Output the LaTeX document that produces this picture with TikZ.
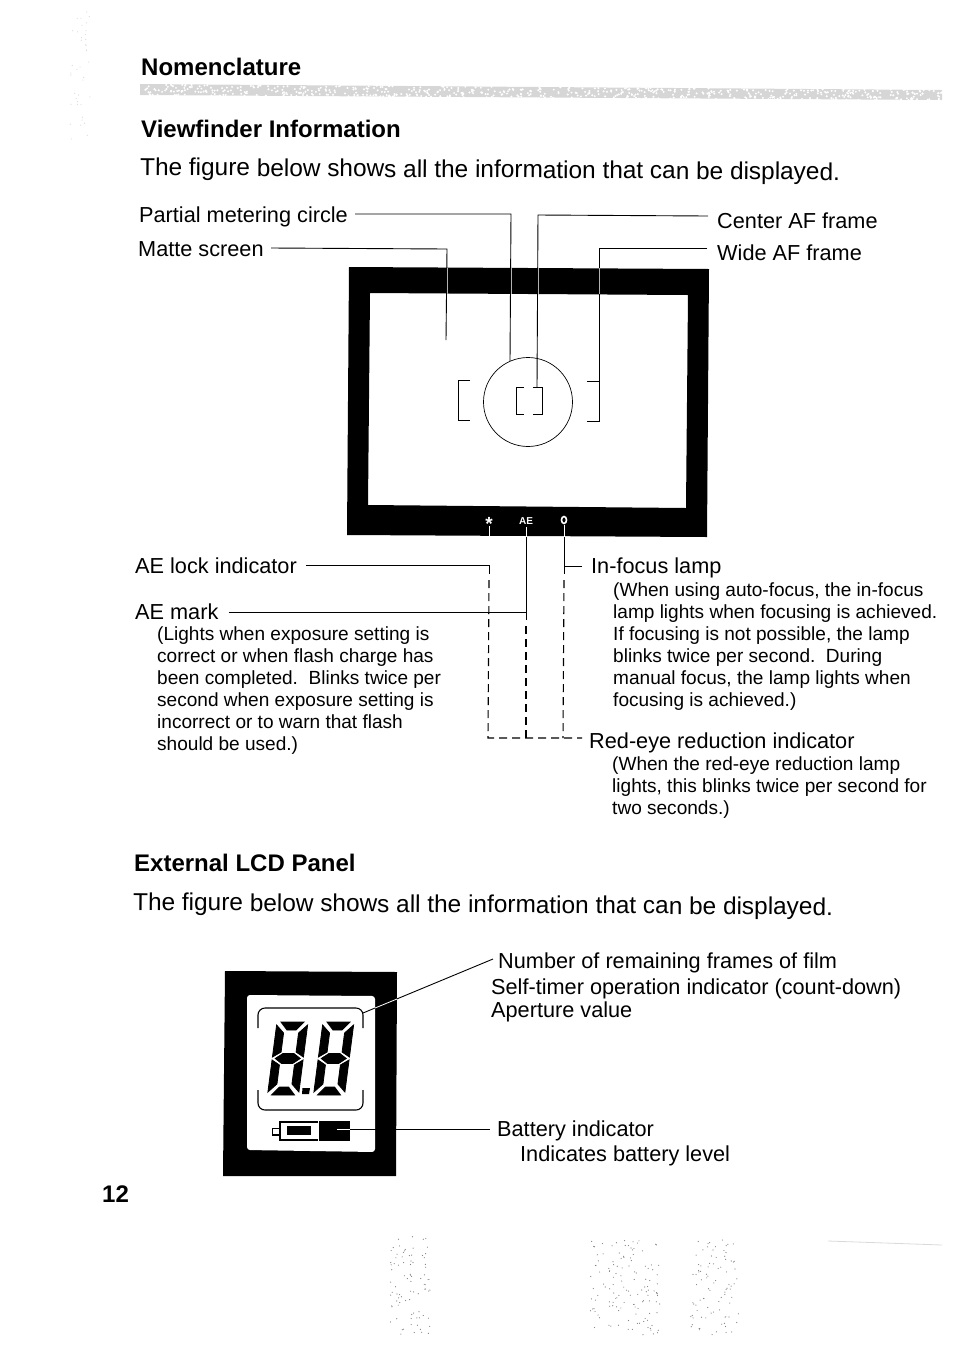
\documentclass[tikz,border=0pt]{standalone}
\usepackage{fontspec}
\setmainfont{Liberation Sans}
\usepackage{xcolor}
\usetikzlibrary{positioning,calc,shapes.geometric}
\definecolor{bandgray}{gray}{0.84}
\definecolor{speck}{gray}{0.5}
\definecolor{speckpale}{gray}{0.85}
\newcommand{\lcddigit}[2]{%
\begin{scope}[shift={(#1,#2)}, xslant=0.13, line width=0.8pt]
\filldraw (4,0) -- (27,0) -- (20,8) -- (11,8) -- cycle;
\filldraw (4,73) -- (27,73) -- (20,65) -- (11,65) -- cycle;
\filldraw (3,36.5) -- (10,31.5) -- (21,31.5) -- (28,36.5) -- (21,41.5) -- (10,41.5) -- cycle;
\foreach \mir/\off in {1/0, -1/31} {
    \begin{scope}[shift={(\off,0)}, xscale=\mir]
    \filldraw (0,3) -- (8,11) -- (8,30) -- (0,35) -- cycle;
    \filldraw (0,38) -- (8,43) -- (8,62) -- (0,70) -- cycle;
    \end{scope}
}
\end{scope}}

\begin{document}
\begin{tikzpicture}[
    x=1pt, y=-1pt,
    headtext/.style={font=\fontsize{24}{28}\selectfont\bfseries, anchor=west, inner sep=0pt},
    introtext/.style={font=\fontsize{24.4}{28}\selectfont, anchor=west, inner sep=0pt},
    labeltext/.style={font=\fontsize{21.7}{26}\selectfont, anchor=west, inner sep=0pt},
    smalltext/.style={font=\fontsize{19.05}{22}\selectfont, anchor=north west, align=left, inner sep=0pt},
    lead/.style={line width=0.9pt},
    leadband/.style={line width=0.9pt, gray!60},
    dashlead/.style={line width=1.1pt, dash pattern=on 8pt off 5pt},
    thin bracket/.style={line width=0.7pt}
]
\useasboundingbox (0,0) rectangle (954,1350);

% heading band
\fill[bandgray] (140,84) -- (942,90) -- (942,100) -- (140,95) -- cycle;
\pgfmathsetseed{12}
\foreach \i in {1,...,600} {
    \pgfmathsetmacro{\dx}{140+rnd*802}
    \pgfmathsetmacro{\dy}{84+0.0072*(\dx-140)+rnd*11}
    \fill[white] (\dx,\dy) circle (1.1);
}
% paper specks
\foreach \xa/\xb/\ya/\yb/\num/\col in {390/430/1235/1335/85/speck, 590/660/1240/1335/130/speck, 690/740/1240/1335/90/speck, 70/90/10/140/40/speckpale} {
    \foreach \i in {1,...,\num} {
        \pgfmathsetmacro{\dx}{\xa+rnd*(\xb-\xa)}
        \pgfmathsetmacro{\dy}{\ya+rnd*(\yb-\ya)}
        \fill[\col] (\dx,\dy) circle (0.6);
    }
}
\draw[speckpale, line width=0.8pt] (828,1241) -- (942,1245);

\node[headtext] (nomen) at (141,67) {Nomenclature};
\node[headtext] (viewhead) at (141,129) {Viewfinder Information};
\node[introtext, rotate=-0.4] (viewintro) at (140,169) {The figure below shows all the information that can be displayed.};

% viewfinder
\fill[even odd rule] (349,267) -- (709,269) -- (707,537) -- (347,535) -- cycle
    (370,293) -- (688,295) -- (686,508) -- (368,505) -- cycle;
\node[draw, circle, line width=0.7pt, minimum size=89pt, inner sep=0pt] (meter) at (528,402) {};
\draw[thin bracket] (470,380) -- (458,380) -- (458,420) -- (470,420);
\draw[thin bracket] (587,381.5) -- (599,381.5) -- (599,421) -- (587,421);
\draw[thin bracket] (524,387) -- (516,387) -- (516,414) -- (524,414);
\draw[thin bracket] (533,387) -- (542,387) -- (542,414) -- (533,414);

\node[labeltext] (partial) at (139,216.5) {Partial metering circle};
\node[labeltext] (matte) at (138,249.5) {Matte screen};
\node[labeltext] (centeraf) at (717,221) {Center AF frame};
\node[labeltext] (wideaf) at (717,253) {Wide AF frame};
\coordinate (partialtip) at (510,361);
\coordinate (mattetip) at (446,340);
\coordinate (centertip) at (537,387);
\coordinate (widetip) at (599,381.5);

\draw[lead] (355,214) -- (511,214) -- (partialtip);
\draw[lead] (271,248) -- (447,249) -- (mattetip);
\draw[lead] (708,216) -- (538,215) -- (centertip);
\draw[lead] (707,248) -- (599,248) -- (widetip);
\foreach \xb in {447,511,538,599} \draw[leadband] (\xb,268) -- (\xb,294);

% indicators in the black band
\node[white, font=\fontsize{19}{19}\selectfont\bfseries, inner sep=0pt] (lockmark) at (489,523.5) {*};
\node[white, font=\fontsize{10}{10}\selectfont\bfseries, inner sep=0pt] (aemark) at (526,521) {AE};
\node[draw=white, line width=1.6pt, ellipse, minimum width=5pt, minimum height=7pt, inner sep=0pt] (lamp) at (564,520) {};
\draw[white, line width=0.8pt] (489,526) -- (489,537);
\draw[white, line width=0.8pt] (526,527) -- (526,537);
\draw[white, line width=0.8pt] (564,525) -- (564,537);

\node[labeltext] (lock) at (135,566) {AE lock indicator};
\node[labeltext] (mark) at (135,611.5) {AE mark};
\node[labeltext] (infocus) at (591,567.5) {In-focus lamp};
\node[labeltext] (redeye) at (589,742.5) {Red-eye reduction indicator};
\coordinate (dashturn) at (488,738);

\draw[lead] (306,565) -- (489,565) -- (489,574);
\draw[lead] (229,612) -- (526,612) -- (526,537) (526,612) -- (526,620);
\draw[lead] (582,566) -- (564,566) -- (564,537) (564,566) -- (564,574);
\draw[dashlead] (489,580) -- (dashturn) -- (582,738);
\draw[dashlead] (526,626) -- (526,738);
\draw[dashlead] (564,580) -- (563,738);

\node[smalltext] (marktext) at (157,626) {(Lights when exposure setting is\\correct or when flash charge has\\been completed.\ \ Blinks twice per\\second when exposure setting is\\incorrect or to warn that flash\\should be used.)};
\node[smalltext] (focustext) at (613,582) {(When using auto-focus, the in-focus\\lamp lights when focusing is achieved.\\If focusing is not possible, the lamp\\blinks twice per second.\ \ During\\manual focus, the lamp lights when\\focusing is achieved.)};
\node[smalltext] (redtext) at (612,756) {(When the red-eye reduction lamp\\lights, this blinks twice per second for\\two seconds.)};

\node[headtext] (lcdhead) at (134,863) {External LCD Panel};
\node[introtext, rotate=-0.4] (lcdintro) at (133,904) {The figure below shows all the information that can be displayed.};

% LCD panel
\fill (225,971) -- (397,972) -- (396,1176) -- (223,1176) -- cycle;
\fill[white, rounded corners=3pt] (247,995) -- (375,996) -- (375,1152) -- (247,1150) -- cycle;
\draw[line width=1.1pt, rounded corners=7pt] (258,1028) -- (258,1008) -- (363,1008) -- (363,1028);
\draw[line width=1.1pt, rounded corners=7pt] (258,1090) -- (258,1110) -- (363,1110) -- (363,1090);
\lcddigit{277}{1022}
\lcddigit{323}{1022}
\fill (302.5,1088) -- (310,1088) -- (309,1094) -- (302,1094) -- cycle;
% battery
\draw[line width=1.6pt] (279,1128.5) -- (272.5,1128.5) -- (272.5,1135) -- (279,1135);
\draw[line width=2pt] (318,1122) -- (280,1122) -- (280,1140) -- (318,1140);
\fill (287,1126) rectangle (311,1135);
\fill (319,1121) rectangle (350,1141);

\node[labeltext] (frames) at (498,962.5) {Number of remaining frames of film};
\node[labeltext] (timer) at (491,988.5) {Self-timer operation indicator (count-down)};
\node[labeltext] (aperture) at (491,1011.5) {Aperture value};
\node[labeltext] (battery) at (497,1130.5) {Battery indicator};
\node[labeltext] (level) at (520,1155.5) {Indicates battery level};
\coordinate (lcdtip) at (363,1013);
\coordinate (battip) at (337,1129);

\draw[lead] (lcdtip) -- (493,959);
\draw[white, line width=0.8pt] (375,1008) -- (397,999);
\draw[white, line width=0.8pt] (battip) -- (350,1129);
\draw[lead] (350,1129) -- (490,1129);

\node[headtext] (pageno) at (102,1194) {12};
\end{tikzpicture}
\end{document}
